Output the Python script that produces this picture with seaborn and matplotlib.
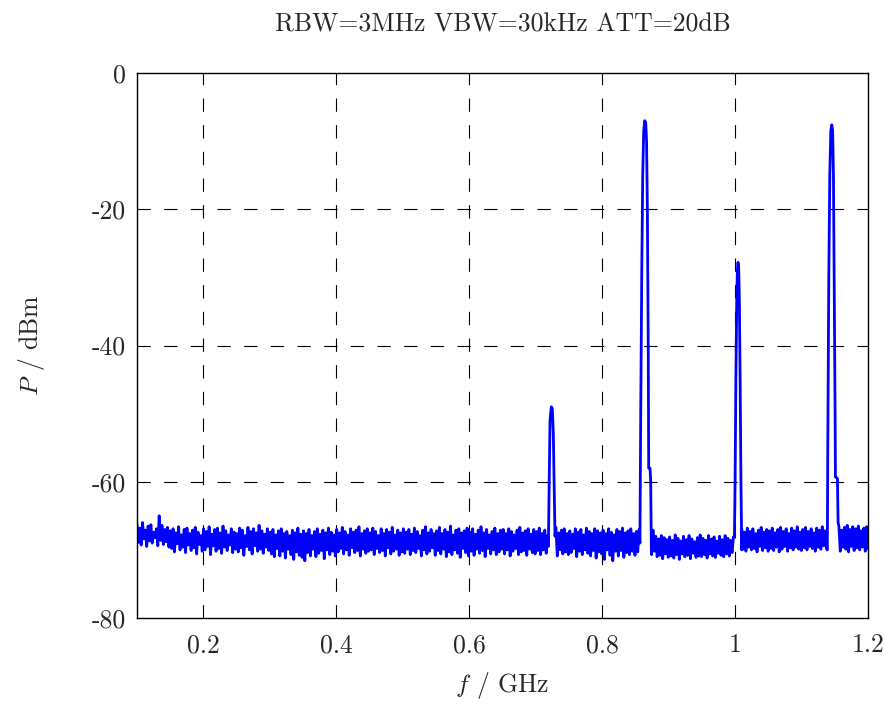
import numpy as np
import pandas as pd
import seaborn as sns
import matplotlib.pyplot as plt

title = "RBW=3MHz VBW=30kHz ATT=20dB"
f_start, f_stop = 0.1, 1.2  # GHz, sweep span

# noise floor, evenly spaced over the sweep (one row ~ 50 MHz)
noise_dbm = [
    -66.2, -68.9, -66.8, -69.3, -66.0, -68.4, -67.1, -69.5, -66.5, -68.7, -66.3, -69.0, -67.4, -68.2, -66.9, -69.4, -65.0, -68.6, -66.4, -69.2, -67.0, -68.8, -66.7, -69.6,
    -67.2, -69.8, -66.9, -70.3, -67.5, -69.1, -66.6, -70.0, -67.8, -69.6, -67.0, -70.4, -66.8, -69.3, -67.6, -70.1, -67.1, -69.7, -66.7, -70.6, -67.4, -69.2, -67.9, -70.2,
    -66.9, -70.0, -67.3, -69.5, -66.6, -70.7, -67.7, -69.4, -67.0, -70.2, -66.8, -69.8, -67.5, -70.5, -66.5, -69.6, -67.2, -70.1, -67.8, -69.3, -66.9, -70.4, -67.4, -69.9,
    -67.6, -70.3, -66.8, -69.7, -67.1, -70.8, -67.9, -69.5, -66.7, -70.0, -67.3, -70.6, -66.9, -69.4, -67.5, -70.2, -66.4, -69.9, -67.2, -70.5, -67.7, -69.6, -66.9, -70.1,
    -67.4, -70.6, -67.0, -71.0, -67.8, -69.8, -67.2, -70.9, -66.9, -70.2, -67.6, -71.2, -67.3, -69.9, -67.9, -70.7, -67.1, -71.4, -67.5, -70.3, -66.8, -70.8, -67.7, -71.1,
    -67.2, -71.6, -67.6, -70.4, -67.0, -70.9, -67.9, -69.9, -67.3, -71.0, -66.9, -70.5, -67.7, -70.1, -67.1, -71.3, -67.5, -70.0, -66.8, -70.7, -67.4, -70.2, -67.8, -70.9,
    -67.0, -70.3, -67.5, -69.8, -66.7, -70.6, -67.3, -70.0, -67.8, -70.8, -66.9, -69.7, -67.4, -70.4, -67.1, -70.1, -66.6, -70.9, -67.6, -69.9, -67.2, -70.5, -66.9, -70.2,
    -67.5, -70.0, -66.8, -70.7, -67.3, -69.8, -67.9, -70.4, -66.9, -70.1, -67.6, -70.9, -67.0, -69.7, -67.4, -70.6, -66.7, -70.2, -67.8, -69.9, -67.1, -70.8, -67.5, -70.3,
    -66.9, -70.5, -67.4, -69.9, -67.0, -70.7, -67.7, -70.1, -66.8, -70.4, -67.3, -69.8, -67.9, -70.9, -67.1, -70.0, -66.6, -70.6, -67.5, -70.2, -67.0, -69.7, -67.6, -70.8,
    -67.2, -70.1, -66.7, -70.6, -67.6, -69.9, -67.0, -71.0, -67.4, -70.3, -66.5, -70.7, -67.8, -70.0, -67.1, -70.5, -66.9, -71.1, -67.5, -69.8, -67.2, -70.4, -66.8, -70.9,
    -67.4, -70.2, -66.9, -70.8, -67.7, -69.9, -67.1, -70.5, -66.6, -70.1, -67.5, -71.0, -67.0, -69.8, -67.8, -70.6, -67.3, -70.0, -66.8, -70.7, -67.6, -70.3, -67.1, -69.9,
    -67.0, -70.6, -67.6, -70.0, -66.9, -70.9, -67.3, -70.2, -67.8, -69.8, -67.1, -70.7, -66.7, -70.3, -67.5, -70.1, -67.2, -70.8, -66.9, -69.9, -67.7, -70.4, -67.0, -70.6,
    -67.3, -70.1, -66.8, -70.7, -67.6, -70.0, -67.1, -70.5, -67.9, -69.9, -67.2, -70.8, -67.0, -70.2, -66.7, -70.9, -67.5, -70.0, -67.1, -70.6, -66.9, -70.3, -67.6, -70.7,
    -67.2, -70.4, -67.7, -69.8, -66.9, -71.0, -67.4, -70.2, -67.0, -70.7, -67.8, -70.0, -66.8, -70.5, -67.3, -70.9, -67.6, -70.1, -66.9, -71.2, -67.2, -70.3, -67.5, -70.6,
    -67.1, -71.4, -67.6, -70.0, -66.9, -70.8, -67.4, -71.6, -67.8, -70.2, -67.0, -70.9, -67.3, -70.1, -66.8, -71.1, -67.5, -70.4, -67.2, -70.7, -66.9, -70.2, -67.6, -70.8,
    -67.3, -70.3, -67.0, -70.6, -67.5, -70.1, -67.2, -70.5, -67.8, -70.0, -67.4, -70.7, -67.1, -70.2, -68.0, -71.0, -68.4, -70.8, -67.9, -71.3, -68.2, -70.6, -68.5, -71.1,
    -68.1, -70.9, -68.6, -71.2, -67.8, -70.7, -68.3, -71.4, -68.7, -70.6, -68.0, -71.0, -68.5, -70.8, -67.9, -71.3, -68.4, -70.5, -68.8, -71.1, -68.2, -70.9, -67.8, -71.0,
    -68.3, -70.7, -68.6, -71.2, -67.9, -70.6, -68.4, -70.9, -68.1, -71.1, -68.7, -70.5, -68.0, -70.8, -68.5, -71.0, -67.9, -70.6, -68.3, -70.9, -68.6, -70.4, -68.1, -70.7,
    -68.2, -70.5, -67.9, -70.8, -67.0, -69.9, -67.4, -70.2, -66.8, -69.6, -67.3, -70.0, -66.9, -69.8, -67.6, -70.3, -67.1, -69.5, -66.7, -70.1, -67.4, -69.7, -67.0, -70.2,
    -67.2, -69.8, -66.8, -70.1, -67.5, -69.6, -67.0, -70.3, -66.7, -69.9, -67.3, -69.5, -66.9, -70.2, -67.6, -69.7, -66.8, -70.0, -67.2, -69.6, -66.6, -69.9, -67.4, -70.1,
    -67.0, -69.7, -66.7, -70.0, -67.3, -69.5, -66.9, -69.8, -67.5, -70.2, -66.8, -69.6, -67.1, -69.9, -66.6, -69.4, -67.2, -69.8, -66.9, -70.0, -67.4, -69.6, -67.0, -69.9,
    -66.9, -69.8, -66.5, -70.2, -67.1, -69.6, -66.7, -69.9, -66.4, -70.3, -67.0, -69.5, -66.6, -70.1, -66.9, -69.7, -66.5, -70.0, -67.2, -69.6, -66.8, -70.2, -66.6, -69.8,
]

# carrier peaks (GHz, dBm)
peak1_f = [0.7190, 0.7200, 0.7215, 0.7235, 0.7250, 0.7265, 0.7280, 0.7290]
peak1_p = [-69.5, -62.0, -51.0, -49.0, -49.3, -53.0, -62.0, -68.0]

peak2_f = [0.8568, 0.8580, 0.8595, 0.8610, 0.8625, 0.8640, 0.8655, 0.8668, 0.8680, 0.8693, 0.8700, 0.8720, 0.8730, 0.8740]
peak2_p = [-69.0, -50.0, -30.0, -15.0, -8.5, -7.0, -7.3, -10.0, -20.0, -40.0, -58.0, -58.0, -60.0, -70.0]

peak3_f = [0.9990, 1.0000, 1.0012, 1.0024, 1.0034, 1.0044, 1.0054, 1.0064, 1.0076, 1.0088, 1.0100]
peak3_p = [-68.0, -60.0, -45.0, -34.0, -29.0, -27.8, -28.6, -33.0, -45.0, -60.0, -70.0]

peak4_f = [1.1388, 1.1395, 1.1410, 1.1425, 1.1440, 1.1455, 1.1468, 1.1480, 1.1495, 1.1505, 1.1510, 1.1540, 1.1550]
peak4_p = [-70.0, -55.0, -30.0, -15.0, -8.5, -7.6, -8.5, -15.0, -35.0, -50.0, -59.3, -59.5, -66.0]

peaks = [(peak1_f, peak1_p), (peak2_f, peak2_p), (peak3_f, peak3_p), (peak4_f, peak4_p)]

# build the trace: noise outside the peaks, peak profiles inside
noise_f = np.linspace(f_start, f_stop, len(noise_dbm))
keep = np.ones(len(noise_f), dtype=bool)
for pf, pp in peaks:
    keep &= ~((noise_f >= pf[0]) & (noise_f <= pf[-1]))
f = np.concatenate([noise_f[keep]] + [np.array(pf) for pf, _ in peaks])
p = np.concatenate([np.array(noise_dbm)[keep]] + [np.array(pp) for _, pp in peaks])
order = np.argsort(f)
df = pd.DataFrame({'f': f[order], 'P': p[order]})

sns.set_style("white")
plt.rcParams['font.family'] = 'serif'
plt.rcParams['font.serif'] = ['cmr10']
plt.rcParams['mathtext.fontset'] = 'cm'
plt.rcParams['axes.unicode_minus'] = False

fs = 18.5
fig = plt.figure(figsize=(8.85, 7.04), dpi=100)
ax = fig.add_axes([137 / 885, 1 - 618 / 704, (868 - 137) / 885, (618 - 73) / 704])

sns.lineplot(data=df, x='f', y='P', ax=ax, color='#0000ff', lw=2.0,
             estimator=None, sort=False)

ax.set_xlim(f_start, f_stop)
ax.set_ylim(-80, 0)
xt = [0.2, 0.4, 0.6, 0.8, 1.0, 1.2]
yt = [0, -20, -40, -60, -80]
ax.set_xticks(xt)
ax.set_xticklabels(['0.2', '0.4', '0.6', '0.8', '1', '1.2'])
ax.set_yticks(yt)
ax.set_yticklabels(['0', '-20', '-40', '-60', '-80'])
ax.tick_params(direction='in', length=4, width=0.8, color='black', labelsize=fs)
ax.tick_params(axis='x', pad=11)
ax.tick_params(axis='y', pad=8)

for x in xt[:-1]:
    ax.axvline(x, color='black', lw=0.8, dashes=(12, 12), zorder=0)
for y in yt[1:-1]:
    ax.axhline(y, color='black', lw=0.8, dashes=(12, 12), zorder=0)

for s in ax.spines.values():
    s.set_color('black')
    s.set_linewidth(1.0)

ax.set_xlabel('$f$ / GHz', fontsize=fs, labelpad=9)
ax.set_ylabel('$P$ / dBm', fontsize=fs, labelpad=32)
ax.set_title(title, fontsize=fs, pad=30)

fig.savefig('out.png', dpi=100)
